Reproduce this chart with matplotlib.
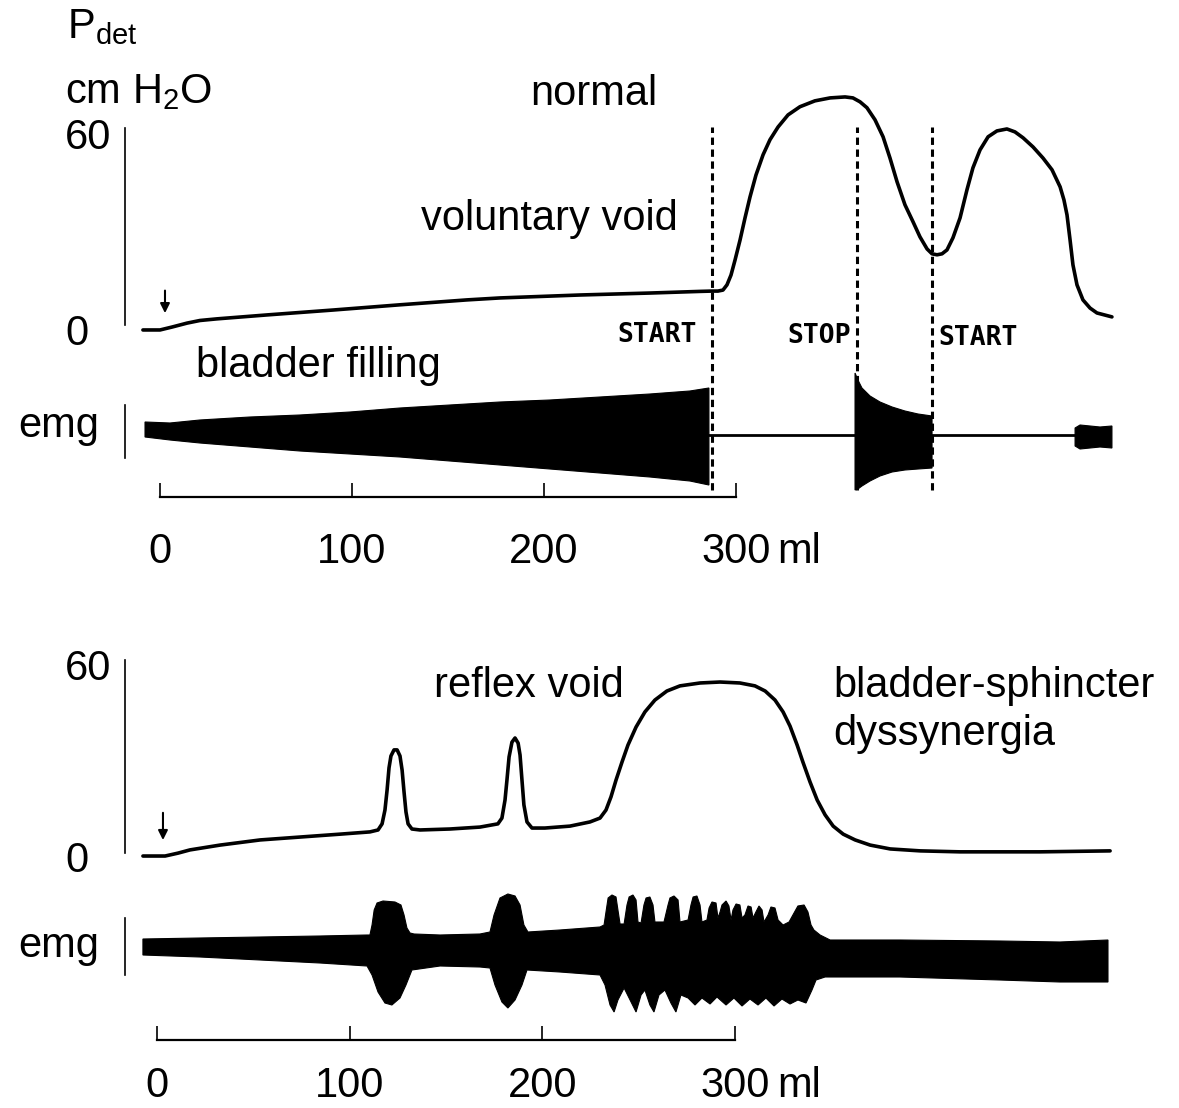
import matplotlib.pyplot as plt
import numpy as np

plt.rcParams['font.family'] = ['Liberation Sans', 'DejaVu Sans']
plt.rcParams['mathtext.fontset'] = 'custom'
plt.rcParams['mathtext.rm'] = 'Liberation Sans'
plt.rcParams['mathtext.it'] = 'Liberation Sans'

W, H = 1179, 1108
FS = 30

# ---------------- normal: pressure (ml, cm H2O) ----------------
norm_vol = [-8.9, 0.0, 6.3, 14.1, 20.8, 29.7, 55.7, 90.1, 125.0, 159.9, 177.1, 218.8,
            255.2, 281.3, 287.5, 290.6, 293.2, 295.3, 297.4, 299.5, 302.1, 304.7, 307.3,
            310.4, 314.1, 317.7, 321.9, 327.1, 333.3, 341.1, 349.0, 356.8, 360.9, 364.6,
            368.2, 372.4, 376.6, 380.2, 383.9, 388.0, 392.2, 395.8, 399.5, 402.1, 404.7,
            407.3, 409.9, 413.0, 416.7, 420.3, 423.4, 427.1, 431.3, 435.9, 441.1, 445.3,
            449.5, 454.7, 459.9, 464.6, 468.8, 470.8, 472.4, 474.0, 475.5, 477.6, 480.7,
            484.4, 488.0, 495.8]
norm_pdet = [0.0, 0.0, 0.9, 2.1, 2.9, 3.4, 4.6, 6.1, 7.7, 9.2, 9.8, 10.7,
             11.3, 11.8, 11.9, 11.9, 12.2, 13.8, 16.8, 21.4, 27.5, 34.3, 40.7,
             47.4, 53.6, 58.2, 62.1, 65.8, 68.3, 70.1, 71.0, 71.3, 71.0, 69.8,
             68.0, 64.3, 59.1, 52.6, 45.3, 38.3, 33.1, 28.5, 24.8, 23.3, 23.0,
             23.3, 24.5, 28.2, 34.3, 42.9, 49.6, 55.1, 59.1, 60.9, 61.5, 60.6,
             58.8, 56.0, 52.6, 49.0, 43.8, 39.8, 35.2, 27.5, 19.9, 13.8, 9.2,
             6.7, 5.2, 4.0]
norm_events = [287.5, 363.0, 402.1]
norm_event_labels = ['START', 'STOP', 'START']

# normal: emg envelope (arbitrary units)
norm_emg_vol = [-7.8, 5.2, 20.8, 46.9, 72.9, 99.0, 125.0, 151.0, 177.1, 203.1, 229.2,
                255.2, 276.0, 285.9]
norm_emg_up = [1.1, 1.0, 1.3, 1.6, 1.8, 2.1, 2.5, 2.8, 3.1, 3.3, 3.6, 3.9, 4.2, 4.5]
norm_emg_lo = [-0.4, -0.7, -1.0, -1.4, -1.8, -2.1, -2.4, -2.8, -3.2, -3.6, -4.0, -4.4,
               -4.8, -5.2]
stop_emg_vol = [362.0, 363.5, 365.6, 369.8, 375.0, 381.3, 388.0, 394.8, 402.1]
stop_emg_up = [6.0, 5.3, 4.5, 3.7, 3.1, 2.6, 2.2, 1.9, 1.7]
stop_emg_lo = [-5.7, -5.6, -5.3, -4.8, -4.3, -3.9, -3.7, -3.6, -3.5]
end_emg_vol = [476.6, 479.2, 489.6, 495.8]
end_emg_up = [0.5, 0.8, 0.6, 0.7]
end_emg_lo = [-1.3, -1.6, -1.4, -1.5]
silent_vol = [[285.9, 362.0], [402.1, 476.6]]

# ---------------- dyssynergia: pressure ----------------
dss_vol = [-7.3, 4.2, 10.9, 17.1, 32.7, 53.5, 74.2, 95.0, 110.5, 114.7, 116.8, 118.3,
           119.4, 120.4, 121.4, 123.0, 124.6, 126.1, 127.2, 128.2, 129.2, 130.3, 132.3,
           136.5, 152.0, 167.6, 176.9, 179.0, 180.6, 181.6, 182.7, 184.2, 185.8, 187.4,
           188.4, 189.4, 190.4, 192.0, 194.6, 201.3, 214.3, 224.7, 229.9, 233.0, 235.6,
           238.2, 241.3, 244.4, 248.6, 253.2, 258.4, 264.6, 271.4, 281.8, 292.2, 302.5,
           310.3, 315.6, 320.7, 324.9, 328.5, 332.2, 335.2, 338.9, 342.6, 346.7, 350.9,
           356.1, 362.3, 370.1, 380.5, 396.1, 416.7, 458.2, 494.6]
dss_pdet = [0.3, 0.3, 1.2, 2.2, 3.7, 5.3, 6.2, 7.1, 7.8, 8.4, 10.3, 14.6,
            20.8, 27.7, 31.4, 33.3, 33.3, 31.4, 27.0, 20.2, 14.0, 10.3, 8.7,
            8.4, 8.7, 9.3, 10.3, 12.1, 17.7, 23.9, 31.1, 35.7, 37.0, 35.4,
            31.7, 23.9, 16.2, 10.9, 9.0, 9.0, 9.6, 10.9, 12.1, 14.6, 18.7,
            23.9, 29.5, 34.8, 40.4, 45.1, 48.8, 51.6, 53.2, 54.1, 54.4, 54.1,
            53.2, 51.6, 48.8, 45.1, 40.7, 34.8, 29.5, 23.3, 17.7, 13.1, 9.6,
            7.1, 5.3, 3.7, 2.5, 1.9, 1.6, 1.6, 1.9]

dss_emg_up_vol = [-7.3, 22.3, 53.5, 84.6, 109.0, 110.5, 111.6, 112.7, 114.2, 117.3, 123.5,
                  126.6, 128.2, 129.7, 131.3, 133.4, 146.9, 167.6, 172.8, 174.9, 178.0,
                  182.1, 185.8, 188.4, 190.4, 192.5, 209.1,
                  229.9, 232.0, 233.0, 234.1, 236.1, 238.2, 239.2, 240.3, 242.4, 243.9,
                  245.0, 247.0, 248.6, 249.6, 251.2, 252.7, 253.8, 255.8, 257.4, 258.4,
                  263.1, 265.2, 266.2, 268.3, 270.4, 271.4, 275.6, 277.1, 278.2, 280.2,
                  281.8, 282.8, 285.4, 286.5, 288.0, 290.1, 291.1, 292.2, 293.2, 295.3,
                  296.8, 297.9, 298.9, 300.5, 302.5, 303.6, 305.1, 306.7, 308.3, 309.3,
                  310.8, 312.4, 314.0, 315.0, 317.1, 318.6, 320.7, 322.3, 324.9, 328.0,
                  330.0, 332.6, 335.8, 337.8, 339.4, 340.9, 344.1, 349.3,
                  385.6, 437.5, 468.6, 493.5]
dss_emg_up = [1.1, 1.2, 1.3, 1.4, 1.5, 1.5, 2.5, 4.0, 4.7, 4.9, 4.8,
              4.5, 3.5, 2.2, 1.7, 1.6, 1.5, 1.6, 1.8, 3.5, 5.2,
              5.6, 5.4, 4.5, 2.5, 1.8, 2.0,
              2.3, 2.5, 3.8, 5.2, 5.5, 5.3, 4.0, 2.6, 2.6, 4.5,
              5.3, 5.5, 5.0, 2.8, 2.7, 4.5, 5.2, 5.3, 4.5, 2.8,
              2.8, 4.5, 5.2, 5.4, 5.0, 2.8, 3.0, 4.5, 5.3, 5.4,
              4.5, 2.8, 3.0, 4.2, 4.8, 4.7, 3.2, 3.8, 4.5, 4.9,
              4.4, 3.0, 4.0, 4.6, 4.5, 3.2, 3.5, 4.4, 4.3, 3.2,
              3.8, 4.4, 4.0, 2.8, 3.5, 4.3, 4.2, 3.0, 2.5, 2.8,
              3.5, 4.4, 4.5, 3.8, 2.5, 2.0, 1.5, 1.0,
              1.0, 0.9, 0.8, 1.0]
dss_emg_lo_vol = [-7.3, 22.3, 53.5, 84.6, 109.0, 111.6, 114.7, 118.3, 121.9, 126.1, 129.2,
                  132.3, 146.9, 167.6, 172.8, 175.4, 179.0, 182.1, 185.8, 189.4, 192.0,
                  209.1, 229.9, 232.5, 235.1, 237.2, 239.2, 242.4, 245.5, 248.6, 251.2,
                  253.2, 255.8, 257.9, 260.5, 263.6, 266.7, 269.3, 271.9, 275.6, 279.2,
                  282.8, 287.0, 290.6, 295.3, 299.4, 303.6, 307.7, 311.9, 316.0, 320.2,
                  324.3, 328.5, 332.6, 336.8, 339.9, 342.0, 346.7, 385.6, 437.5, 468.6,
                  493.5]
dss_emg_lo = [-0.5, -0.7, -1.0, -1.3, -1.6, -2.5, -4.2, -5.3, -5.5, -4.8, -3.5,
              -2.0, -1.6, -1.7, -1.8, -3.5, -5.2, -5.8, -5.0, -3.5, -2.0,
              -2.2, -2.5, -3.5, -5.5, -6.2, -5.0, -3.8, -5.0, -6.2, -4.5,
              -4.0, -5.5, -6.2, -4.5, -4.0, -5.3, -6.2, -4.5, -4.8, -5.5,
              -4.8, -5.4, -4.7, -5.5, -4.8, -5.6, -4.9, -5.5, -4.8, -5.6,
              -4.9, -5.4, -5.0, -5.3, -4.0, -3.0, -2.7, -2.7, -3.0, -3.2,
              -3.2]

scale_ticks = [0, 100, 200, 300]


def px_box(y0, y1):
    return [0, 1 - y1 / H, 1, (y1 - y0) / H]


def px(x, y):
    return x / W, 1 - y / H


def pressure_axes(y0, y1, xlim, ylim, spine_x, bounds):
    ax = fig.add_axes(px_box(y0, y1))
    ax.set_xlim(*xlim)
    ax.set_ylim(*ylim)
    ax.patch.set_alpha(0)
    for s in ['top', 'right', 'bottom']:
        ax.spines[s].set_visible(False)
    ax.spines['left'].set_position(('data', spine_x))
    ax.spines['left'].set_bounds(*bounds)
    ax.spines['left'].set_linewidth(1.2)
    ax.set_xticks([])
    ax.set_yticks([0, 60])
    ax.set_yticklabels(['0', '60'], fontsize=FS, ha='left')
    ax.tick_params(axis='y', length=0, pad=43)
    return ax


def emg_axes(y0, y1, xlim, ylim, spine_x, bounds, pad):
    ax = fig.add_axes(px_box(y0, y1))
    ax.set_xlim(*xlim)
    ax.set_ylim(*ylim)
    ax.patch.set_alpha(0)
    for s in ['top', 'right']:
        ax.spines[s].set_visible(False)
    ax.spines['left'].set_position(('data', spine_x))
    ax.spines['left'].set_bounds(*bounds)
    ax.spines['left'].set_linewidth(1.2)
    ax.spines['bottom'].set_bounds(0, 300)
    ax.spines['bottom'].set_linewidth(1.6)
    ax.set_yticks([])
    ax.set_xticks(scale_ticks)
    ax.set_xticklabels([str(t) for t in scale_ticks], fontsize=FS)
    ax.tick_params(axis='x', direction='in', length=10, width=1.2, pad=pad)
    ax.annotate('ml', xy=(300, 0), xycoords=('data', 'axes fraction'),
                xytext=(30, -pad), textcoords='offset points',
                ha='left', va='top', fontsize=FS)
    return ax


def envelope(ax, xu, up, xl, lo):
    ax.fill(np.r_[xu, np.asarray(xl)[::-1]], np.r_[up, np.asarray(lo)[::-1]],
            color='k', lw=0.8)


fig = plt.figure(figsize=(W / 100, H / 100), dpi=100)

# ---- top panel (normal) ----
xlim_top = (-160 / 1.92, (W - 160) / 1.92)
axp = pressure_axes(60, 345, xlim_top, (-4.6, 82.6), -18.2, (1.5, 61.8))
axp.plot(norm_vol, norm_pdet, color='k', lw=2.6, solid_capstyle='round',
         solid_joinstyle='round', clip_on=False)
axp.vlines(norm_events, -49.0, 62.1, colors='k', linestyles=(0, (2.4, 1.5)), lw=2.2,
           clip_on=False)
axp.annotate('', xy=(2.6, 4.3), xytext=(2.6, 12.9),
             arrowprops=dict(arrowstyle='-|>', lw=1.5, color='k', mutation_scale=14))

axe = emg_axes(360, 497, xlim_top, (-6.4, 7.3), -18.2, (-2.5, 2.8), 25)
envelope(axe, norm_emg_vol, norm_emg_up, norm_emg_vol, norm_emg_lo)
envelope(axe, stop_emg_vol, stop_emg_up, stop_emg_vol, stop_emg_lo)
envelope(axe, end_emg_vol, end_emg_up, end_emg_vol, end_emg_lo)
for seg in silent_vol:
    axe.plot(seg, [-0.2, -0.2], color='k', lw=2.0)

# ---- bottom panel (dyssynergia) ----
xlim_bot = (-157 / 1.927, (W - 157) / 1.927)
axp2 = pressure_axes(600, 875, xlim_bot, (-5.6, 79.9), -16.6, (1.2, 61.2))
axp2.plot(dss_vol, dss_pdet, color='k', lw=2.6, solid_capstyle='round',
          solid_joinstyle='round')
axp2.annotate('', xy=(3.1, 4.4), xytext=(3.1, 14.6),
              arrowprops=dict(arrowstyle='-|>', lw=1.5, color='k', mutation_scale=14))

axe2 = emg_axes(880, 1040, xlim_bot, (-9.0, 7.0), -16.6, (-2.5, 3.2), 19)
envelope(axe2, dss_emg_up_vol, dss_emg_up, dss_emg_lo_vol, dss_emg_lo)

# ---- labels ----
fig.text(*px(67, 38), r'$\mathrm{P_{det}}$', fontsize=FS, ha='left', va='baseline')
fig.text(*px(65, 103), r'cm H$_2$O', fontsize=FS, ha='left', va='baseline')
fig.text(*px(18, 437), 'emg', fontsize=FS, ha='left', va='baseline')
fig.text(*px(18, 957), 'emg', fontsize=FS, ha='left', va='baseline')
fig.text(*px(594, 105), 'normal', fontsize=FS, ha='center', va='baseline')
fig.text(*px(549, 230), 'voluntary void', fontsize=FS, ha='center', va='baseline')
fig.text(*px(318, 377), 'bladder filling', fontsize=FS, ha='center', va='baseline')
fig.text(*px(529, 697), 'reflex void', fontsize=FS, ha='center', va='baseline')
fig.text(*px(833, 697), 'bladder-sphincter', fontsize=FS, ha='left', va='baseline')
fig.text(*px(833, 745), 'dyssynergia', fontsize=FS, ha='left', va='baseline')

for (xc, yb), lbl in zip([(657, 342), (819, 343), (978, 345)], norm_event_labels):
    fig.text(*px(xc, yb), lbl, fontsize=19, family='DejaVu Sans Mono',
             weight='bold', ha='center', va='baseline')

fig.savefig('out.png', dpi=100, facecolor='white')
